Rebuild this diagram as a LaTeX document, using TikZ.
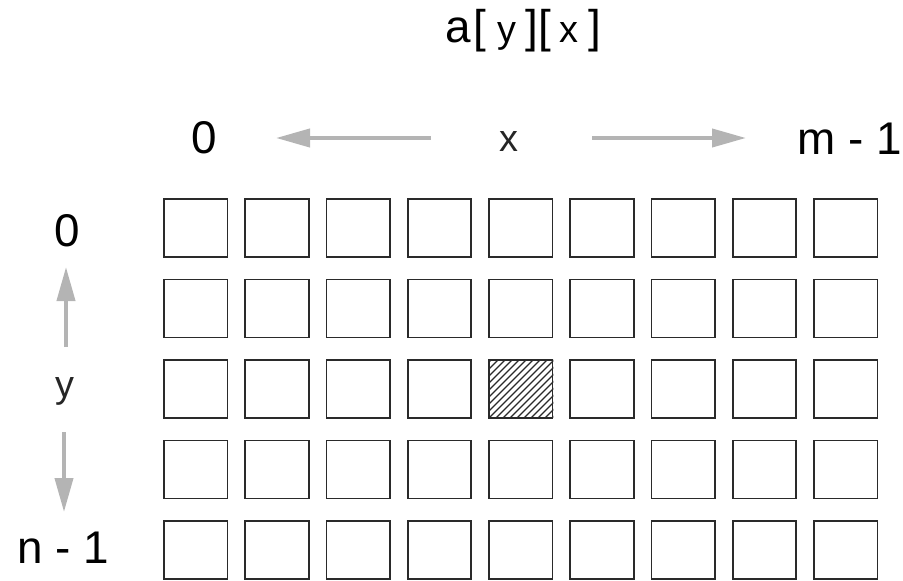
\documentclass[tikz,border=0pt]{standalone}
\usepackage{fontspec}
\setmainfont{Liberation Sans}
\usetikzlibrary{arrows.meta,calc}
\definecolor{arrowgrey}{HTML}{B4B4B4}
\definecolor{boxline}{HTML}{2A2A2A}
\tikzset{
  cell/.style={draw=boxline, line width=1.8bp, minimum width=63.5bp, minimum height=58bp, inner sep=0pt, fill=white},
  biglabel/.style={font=\fontsize{46}{50}\selectfont, inner sep=0pt, text=black},
  smalllabel/.style={font=\fontsize{38}{42}\selectfont, inner sep=0pt, text=black!85},
  greyarrow/.style={draw=arrowgrey, line width=4bp, -{Triangle[length=34bp,width=18bp]}},
  hatch/.style={draw=boxline, line width=1.3bp}
}
\newcommand{\smtxt}[1]{{\fontsize{38}{42}\selectfont #1}}
\begin{document}
\begin{tikzpicture}[x=1bp,y=-1bp]
\useasboundingbox (0,0) rectangle (903,581);
% title
\node[anchor=base west, inner sep=0pt] (title) at (445,43)
  {\fontsize{46}{50}\selectfont a\hspace{3bp}[\hspace{11bp}\smtxt{y}\hspace{9bp}][\hspace{9bp}\smtxt{x}\hspace{10bp}]};
% top labels
\node[biglabel, anchor=base] (xzero) at (204,154) {0};
\node[smalllabel, anchor=base] (xlab) at (509,152) {x};
\node[biglabel, anchor=base west] (xend) at (797,155) {m - 1};
% left labels
\node[biglabel, anchor=base] (yzero) at (67,247) {0};
\node[smalllabel, anchor=base] (ylab) at (65,397) {y};
\node[biglabel, anchor=base west] (yend) at (17,563) {n - 1};
% arrow coordinates
\coordinate (la0) at (431,138); \coordinate (la1) at (276,138);
\coordinate (ra0) at (592,138); \coordinate (ra1) at (746,138);
\coordinate (ua0) at (66,347);  \coordinate (ua1) at (66,267);
\coordinate (da0) at (64,432);  \coordinate (da1) at (64,512);
\draw[greyarrow] (la0) -- (la1);
\draw[greyarrow] (ra0) -- (ra1);
\draw[greyarrow] (ua0) -- (ua1);
\draw[greyarrow] (da0) -- (da1);
% grid
\foreach \j in {0,...,4}{
  \foreach \i in {0,...,8}{
    \node[cell] (c\j\i) at ({195.75+81.25*\i},{228+80.5*\j}) {};
  }
}
% hatched cell
\begin{scope}
  \clip (c24.south west) rectangle (c24.north east);
  \foreach \k in {-70,-63,...,70}{
    \draw[hatch] ($(c24.south west)+(\k,0)$) -- ++(70,-70);
  }
\end{scope}
\node[cell, fill=none] at (c24) {};
\end{tikzpicture}
\end{document}
